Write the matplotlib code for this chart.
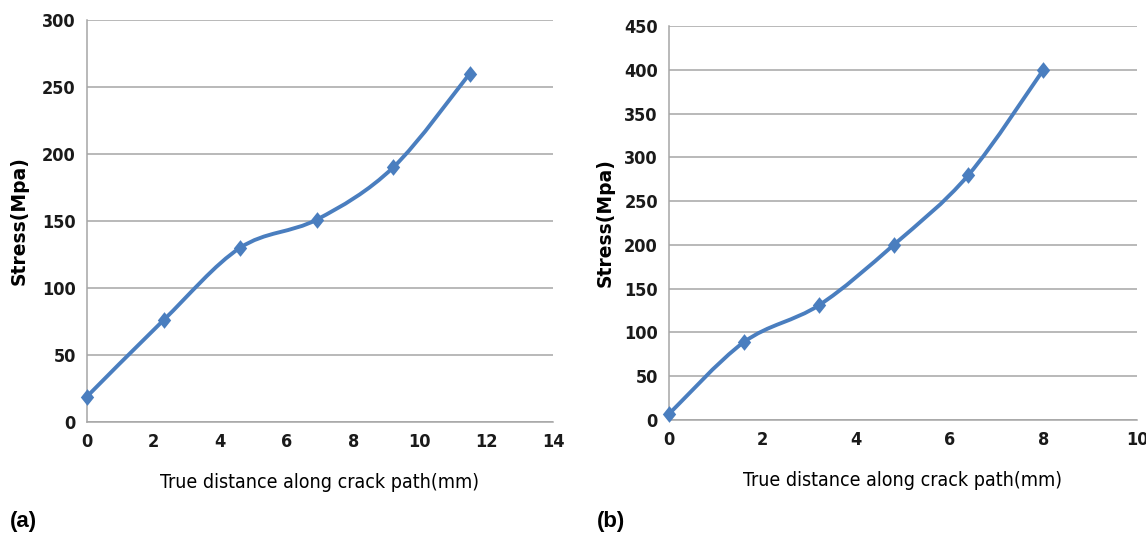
import matplotlib
matplotlib.use("Agg")
import matplotlib.pyplot as plt
from matplotlib.path import Path
from matplotlib.patches import PathPatch

# panel (a)
dist_a = [0, 2.3, 4.6, 6.9, 9.2, 11.5]
stress_a = [19, 76, 130, 151, 190, 260]
# panel (b)
dist_b = [0, 1.6, 3.2, 4.8, 6.4, 8.0]
stress_b = [7, 89, 131, 200, 280, 400]

line_color = "#4a7ebf"
grid_color = "#a6a6a6"
narrow = ["DejaVu Sans"]
diamond = [(0, 1), (0.8, 0), (0, -1), (-0.8, 0), (0, 1)]


def smooth_path(xs, ys, t=1 / 6):
    # Excel style smoothed line: cubic bezier segments through the points
    verts = [(xs[0], ys[0])]
    codes = [Path.MOVETO]
    n = len(xs)
    for i in range(n - 1):
        x0, y0 = (xs[i - 1], ys[i - 1]) if i > 0 else (xs[i], ys[i])
        x1, y1 = xs[i], ys[i]
        x2, y2 = xs[i + 1], ys[i + 1]
        x3, y3 = (xs[i + 2], ys[i + 2]) if i + 2 < n else (x2, y2)
        c1 = (x1 + (x2 - x0) * t, y1 + (y2 - y0) * t)
        c2 = (x2 - (x3 - x1) * t, y2 - (y3 - y1) * t)
        verts += [c1, c2, (x2, y2)]
        codes += [Path.CURVE4] * 3
    return Path(verts, codes)


def draw_panel(ax, xs, ys, xmax, ymax, ystep, ypad):
    ax.add_patch(PathPatch(smooth_path(xs, ys), facecolor="none",
                           edgecolor=line_color, lw=2.8, zorder=3))
    ax.plot(xs, ys, linestyle="none", marker=diamond, markersize=12,
            markeredgewidth=0, color=line_color, zorder=4, clip_on=False)
    ax.set_xlim(0, xmax)
    ax.set_ylim(0, ymax)
    ax.set_xticks(range(0, xmax + 1, 2))
    ax.set_yticks(range(0, ymax + 1, ystep))
    ax.yaxis.grid(True, color=grid_color, lw=1.1)
    ax.set_axisbelow(True)
    for s in ["top", "right"]:
        ax.spines[s].set_visible(False)
    for s in ["left", "bottom"]:
        ax.spines[s].set_color(grid_color)
        ax.spines[s].set_linewidth(1.1)
    ax.tick_params(axis="x", length=0, pad=8)
    ax.tick_params(axis="y", length=0, pad=8)
    for lab in ax.get_xticklabels() + ax.get_yticklabels():
        lab.set_family(narrow)
        lab.set_stretch("condensed")
        lab.set_fontsize(13)
        lab.set_fontweight("bold")
        lab.set_color("#1a1a1a")
    ax.set_xlabel("True distance along crack path(mm)", family=narrow,
                  fontstretch="condensed", fontsize=14, labelpad=16)
    ax.set_ylabel("Stress(Mpa)", fontsize=13.5, fontweight="bold",
                  labelpad=ypad)


fig = plt.figure(figsize=(11.46, 5.42), dpi=100)
ax_a = fig.add_axes([0.0759, 0.2214, 0.4066, 0.7417])
ax_b = fig.add_axes([0.5838, 0.225, 0.4083, 0.727])

draw_panel(ax_a, dist_a, stress_a, 14, 300, 50, 10)
draw_panel(ax_b, dist_b, stress_b, 10, 450, 50, 7)

fig.text(10 / 1146, 1 - 522 / 542, "(a)", fontsize=16, fontweight="bold",
         va="center", family=["Liberation Sans", "DejaVu Sans"])
fig.text(597 / 1146, 1 - 522 / 542, "(b)", fontsize=16, fontweight="bold",
         va="center", family=["Liberation Sans", "DejaVu Sans"])

fig.savefig("out.png", dpi=100)
